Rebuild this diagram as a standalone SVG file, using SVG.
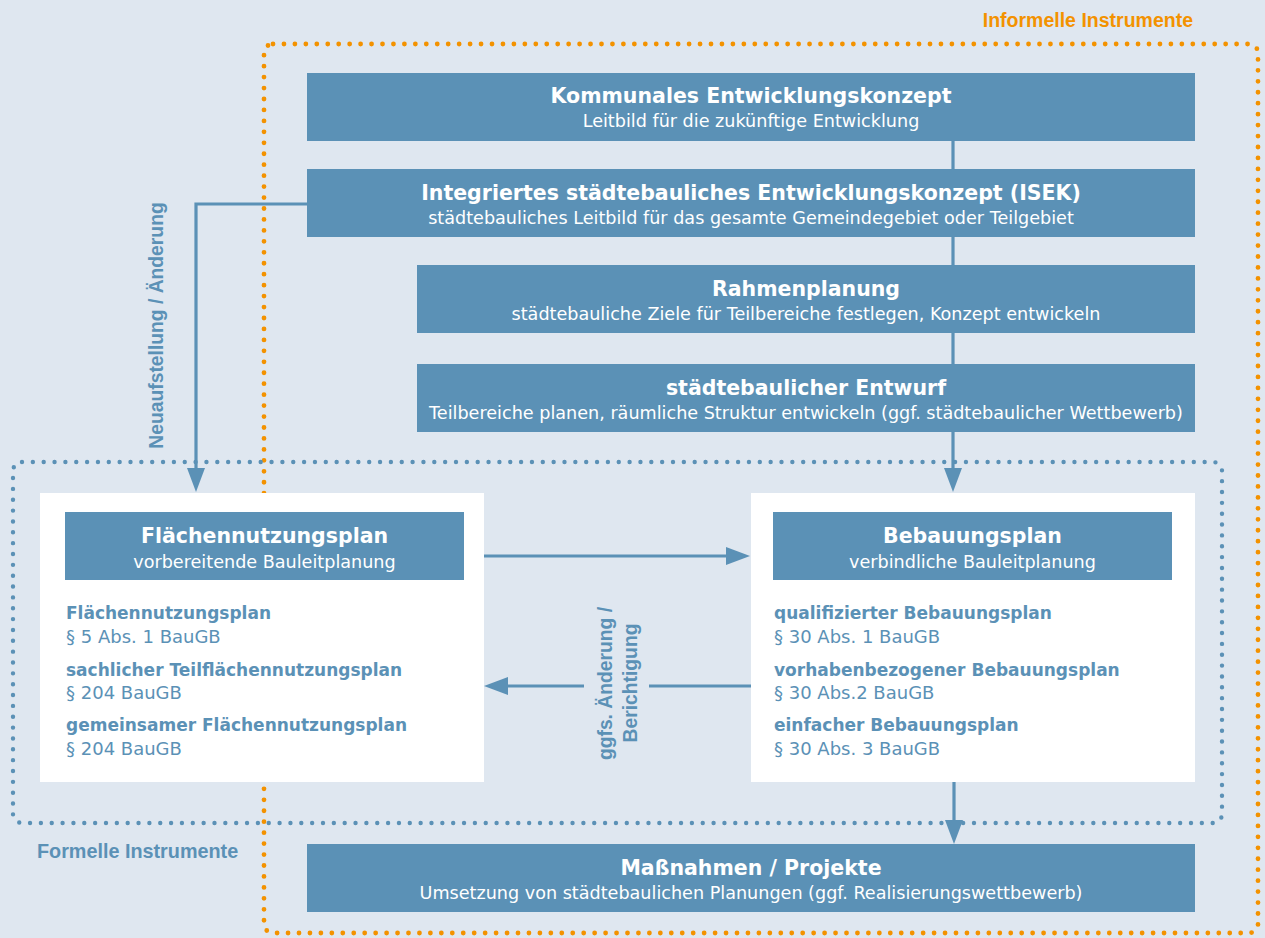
<svg xmlns="http://www.w3.org/2000/svg" width="1265" height="938" viewBox="0 0 1265 938">
<style>
.bg{fill:#dfe7f0}
.box{fill:#5b91b6}
.panel{fill:#ffffff}
.t{font-family:"DejaVu Sans","Liberation Sans",sans-serif;font-weight:bold;font-size:20.5px;fill:#ffffff;text-anchor:middle}
.s{font-family:"DejaVu Sans","Liberation Sans",sans-serif;font-size:17.6px;fill:#ffffff;text-anchor:middle}
.it{font-family:"DejaVu Sans","Liberation Sans",sans-serif;font-weight:bold;font-size:17px;fill:#5b91b6}
.is{font-family:"DejaVu Sans","Liberation Sans",sans-serif;font-size:18px;fill:#5b91b6}
.lab{font-family:"Liberation Sans",Arial,sans-serif;font-weight:bold;font-size:19.5px}
.conn{stroke:#5b91b6;stroke-width:3.2;fill:none}
.dotO{fill:none;stroke:#f39200;stroke-width:4.8;stroke-linecap:round;stroke-dasharray:0 10.95}
.dotB{fill:none;stroke:#5b91b6;stroke-width:4.4;stroke-linecap:round;stroke-dasharray:0 10.85}
</style>
<defs>
<marker id="ah" markerUnits="userSpaceOnUse" markerWidth="24" markerHeight="18" refX="2" refY="9" orient="auto">
<path d="M0,0 L24,9 L0,18 Z" fill="#5b91b6"/>
</marker>
</defs>
<rect class="bg" x="0" y="0" width="1265" height="938"/>

<g id="frames">
<rect class="dotO" x="264" y="44" width="994" height="889" rx="9"/>
<rect class="dotB" x="13" y="462" width="1209" height="361" rx="9"/>
</g>

<g id="kommunal">
<rect class="box" x="307" y="73" width="888" height="68"/>
<text class="t" x="751" y="103">Kommunales Entwicklungskonzept</text>
<text class="s" x="751" y="127">Leitbild für die zukünftige Entwicklung</text>
</g>
<g id="isek">
<rect class="box" x="307" y="169" width="888" height="68"/>
<text class="t" x="751" y="200">Integriertes städtebauliches Entwicklungskonzept (ISEK)</text>
<text class="s" x="751" y="224">städtebauliches Leitbild für das gesamte Gemeindegebiet oder Teilgebiet</text>
</g>
<g id="rahmen">
<rect class="box" x="417" y="265" width="778" height="68"/>
<text class="t" x="806" y="296">Rahmenplanung</text>
<text class="s" x="806" y="320">städtebauliche Ziele für Teilbereiche festlegen, Konzept entwickeln</text>
</g>
<g id="entwurf">
<rect class="box" x="417" y="364" width="778" height="68"/>
<text class="t" x="806" y="395">städtebaulicher Entwurf</text>
<text class="s" x="806" y="419">Teilbereiche planen, räumliche Struktur entwickeln (ggf. städtebaulicher Wettbewerb)</text>
</g>

<g id="fnp">
<rect class="panel" x="40" y="493" width="444" height="289"/>
<rect class="box" x="65" y="512" width="399" height="68"/>
<text class="t" x="264.5" y="543">Flächennutzungsplan</text>
<text class="s" x="264.5" y="568">vorbereitende Bauleitplanung</text>
<text class="it" x="66" y="619">Flächennutzungsplan</text>
<text class="is" x="66" y="643">§ 5 Abs. 1 BauGB</text>
<text class="it" x="66" y="676">sachlicher Teilflächennutzungsplan</text>
<text class="is" x="66" y="699">§ 204 BauGB</text>
<text class="it" x="66" y="731">gemeinsamer Flächennutzungsplan</text>
<text class="is" x="66" y="755">§ 204 BauGB</text>
</g>

<g id="bplan">
<rect class="panel" x="751" y="493" width="444" height="289"/>
<rect class="box" x="773" y="512" width="399" height="68"/>
<text class="t" x="972.5" y="543">Bebauungsplan</text>
<text class="s" x="972.5" y="568">verbindliche Bauleitplanung</text>
<text class="it" x="774" y="619">qualifizierter Bebauungsplan</text>
<text class="is" x="774" y="643">§ 30 Abs. 1 BauGB</text>
<text class="it" x="774" y="676">vorhabenbezogener Bebauungsplan</text>
<text class="is" x="774" y="699">§ 30 Abs.2 BauGB</text>
<text class="it" x="774" y="731">einfacher Bebauungsplan</text>
<text class="is" x="774" y="755">§ 30 Abs. 3 BauGB</text>
</g>

<g id="massnahmen">
<rect class="box" x="307" y="844" width="888" height="68"/>
<text class="t" x="751" y="875">Maßnahmen / Projekte</text>
<text class="s" x="751" y="899">Umsetzung von städtebaulichen Planungen (ggf. Realisierungswettbewerb)</text>
</g>

<g id="connectors">
<line class="conn" x1="953" y1="140" x2="953" y2="170"/>
<line class="conn" x1="953" y1="236" x2="953" y2="266"/>
<line class="conn" x1="953" y1="332" x2="953" y2="365"/>
<line class="conn" x1="953" y1="431" x2="953" y2="470" marker-end="url(#ah)"/>
<polyline class="conn" points="308,204 196,204 196,470" marker-end="url(#ah)"/>
<line class="conn" x1="484" y1="556" x2="728" y2="556" marker-end="url(#ah)"/>
<line class="conn" x1="751" y1="686" x2="649" y2="686"/>
<line class="conn" x1="584" y1="686" x2="506" y2="686" marker-end="url(#ah)"/>
<line class="conn" x1="954" y1="782" x2="954" y2="822" marker-end="url(#ah)"/>
</g>

<g id="labels">
<text class="lab" x="1193" y="27" fill="#f39200" text-anchor="end">Informelle Instrumente</text>
<text class="lab" x="37" y="858" fill="#5b91b6" style="font-size:19.8px">Formelle Instrumente</text>
<text class="lab" transform="translate(163,325.5) rotate(-90)" fill="#5b91b6" text-anchor="middle" style="font-size:19.3px">Neuaufstellung / Änderung</text>
<text class="lab" transform="translate(612,683.5) rotate(-90)" fill="#5b91b6" text-anchor="middle" style="font-size:19.3px">ggfs. Änderung /</text>
<text class="lab" transform="translate(637,683) rotate(-90)" fill="#5b91b6" text-anchor="middle" style="font-size:19.3px">Berichtigung</text>
</g>
</svg>
